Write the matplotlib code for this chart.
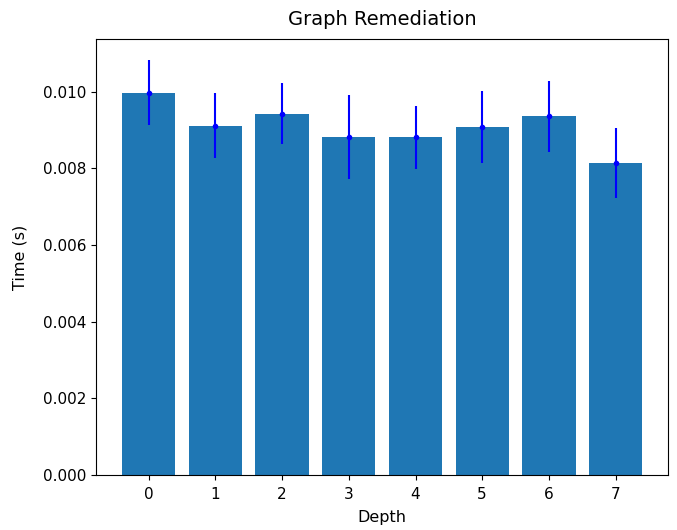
import numpy as np
import matplotlib
matplotlib.use("Agg")
import matplotlib.pyplot as plt

depths = [0, 1, 2, 3, 4, 5, 6, 7]
times = [0.00998, 0.00911, 0.00943, 0.00881, 0.00881, 0.00908, 0.00936, 0.00815]
errors = [0.00085, 0.00085, 0.00079, 0.00110, 0.00083, 0.00094, 0.00092, 0.00091]

plt.rcParams["xtick.labelsize"] = 11
plt.rcParams["ytick.labelsize"] = 11
plt.rcParams["axes.labelsize"] = 11.5
plt.rcParams["xtick.major.pad"] = 5

fig = plt.figure(figsize=(6.77, 5.3), dpi=100)
fig.subplots_adjust(left=0.142, right=0.987, top=0.926, bottom=0.104)

plt.bar(depths, times)
plt.errorbar(depths, times, yerr=errors, fmt=".", color="b")
plt.title("Graph Remediation", fontsize=14, pad=10)
plt.xlabel("Depth", labelpad=6)
plt.ylabel("Time (s)", labelpad=11)

plt.savefig("out.png")
